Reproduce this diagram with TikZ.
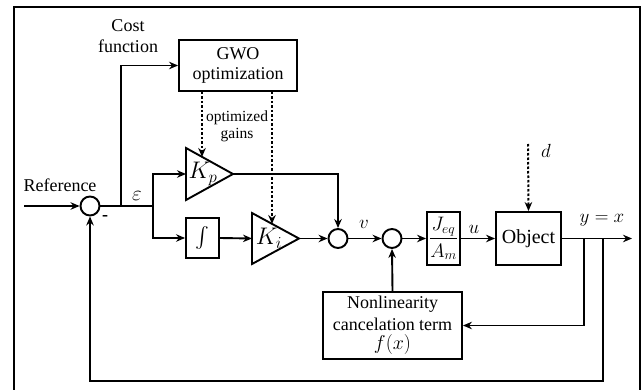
\RequirePackage{fix-cm}
\documentclass[tikz,border=0pt]{standalone}
\usepackage{exscale}
\usepackage{fontspec}
\setmainfont{Liberation Serif}
\usetikzlibrary{arrows.meta,calc}
\begin{document}
\begin{tikzpicture}[x=1pt,y=-1pt,
  line/.style={line width=1.9pt,line join=miter},
  arr/.style={line width=1.9pt,-{Stealth[length=9pt,width=7.5pt]}},
  dots/.style={line width=2pt,dash pattern=on 2.5pt off 2pt,-{Stealth[length=9pt,width=7.5pt]}},
  blk/.style={draw,line width=1.9pt,inner sep=1pt,align=center,font=\fontsize{18}{20}\selectfont},
  sumc/.style={draw,circle,line width=1.9pt,minimum size=19pt,inner sep=0pt},
  lbl/.style={inner sep=0pt,font=\fontsize{19}{21}\selectfont},
  txt/.style={inner sep=0pt,align=center,font=\fontsize{18}{20}\selectfont}]
\useasboundingbox (0,0) rectangle (644,390);
% outer frame
\draw[line width=2.8pt] (14,392) -- (14,7) -- (640,7) -- (640,392);

% blocks
\node[blk,minimum width=118pt,minimum height=51pt] (gwo) at (238,65.5) {GWO\\[0pt]optimization};
\node[blk,minimum width=33pt,minimum height=40pt] (int) at (202.5,238) {\fontsize{20}{22}\selectfont$\int$};
\node[blk,minimum width=33pt,minimum height=53pt,inner sep=0pt] (jeq) at (443.5,238.5) {\fontsize{19.5}{21}\selectfont$\displaystyle\frac{J_{eq}}{A_m}$};
\node[blk,minimum width=65pt,minimum height=53pt,font=\fontsize{20}{22}\selectfont] (obj) at (528.5,238.5) {Object};
\node[blk,minimum width=139pt,minimum height=67pt,inner sep=0pt] (nl) at (392.5,325.5) {Nonlinearity\\[2pt]cancelation term\\[-1pt]{\fontsize{20}{22}\selectfont$f(x)$}};

% summing junctions
\node[sumc] (s1) at (90,206) {};
\node[sumc] (s2) at (338,238.5) {};
\node[sumc] (s3) at (392,238.5) {};

% gain triangles
\coordinate (kpin) at (186,174);
\coordinate (kpout) at (233,174);
\coordinate (kpt) at (186,148);
\coordinate (kpb) at (186,200);
\draw[line] (kpt) -- (kpout) -- (kpb) -- cycle;
\node[inner sep=0pt,font=\fontsize{24}{26}\selectfont] (kp) at (203,174) {$K_p$};
\coordinate (kiin) at (252,238.5);
\coordinate (kiout) at (299,238.5);
\coordinate (kit) at (252,213);
\coordinate (kib) at (252,264);
\draw[line] (kit) -- (kiout) -- (kib) -- cycle;
\node[inner sep=0pt,font=\fontsize{24}{26}\selectfont] (ki) at (269,238.5) {$K_i$};

% auxiliary coordinates
\coordinate (refin) at (24,206);
\coordinate (cf) at (121,206);
\coordinate (sp) at (153,206);
\coordinate (yout) at (632,238.5);
\coordinate (b1) at (584,238.5);
\coordinate (b2) at (603,238.5);
\coordinate (kptop) at (202,157);
\coordinate (kitop) at (272,224);
\coordinate (dtop) at (528,144);

% connectors
\draw[arr] (refin) -- (s1.west);
\draw[line] (s1.east) -- (sp);
\draw[arr] (cf) |- (gwo.west);
\draw[arr] (sp) |- (kpin);
\draw[arr] (sp) |- (int.west);
\draw[arr] (int.east) -- (kiin);
\draw[arr] (kiout) -- (s2.west);
\draw[arr] (kpout) -| (s2.north);
\draw[arr] (s2.east) -- (s3.west);
\draw[arr] (s3.east) -- (jeq.west);
\draw[arr] (jeq.east) -- (obj.west);
\draw[arr] (obj.east) -- (yout);
\draw[arr] (b1) |- (nl.east);
\draw[arr] (b2) -- (603,381) -| (s1.south);
\draw[arr] (nl.north) -- (s3.south);
\draw[dots] (dtop) -- (obj.north);
\draw[dots] (gwo.south -| kptop) -- (kptop);
\draw[dots] (gwo.south -| kitop) -- (kitop);

% labels
\node[txt] (ref) at (60,185) {Reference};
\node[txt] (cost) at (128,36) {Cost\\[1pt]function};
\node[txt,font=\fontsize{15.5}{17}\selectfont] (opt) at (237,126) {optimized\\gains};
\node[inner sep=0pt,font=\fontsize{18}{20}\selectfont\bfseries] (minus) at (105,218) {-};
\node[lbl,font=\fontsize{21}{23}\selectfont] (eps) at (137,196) {$\varepsilon$};
\node[lbl] (v) at (364,224) {$v$};
\node[lbl] (u) at (474,229) {$u$};
\node[lbl] (d) at (546,151) {$d$};
\node[lbl] (y) at (602,220) {$y=x$};
\end{tikzpicture}
\end{document}
